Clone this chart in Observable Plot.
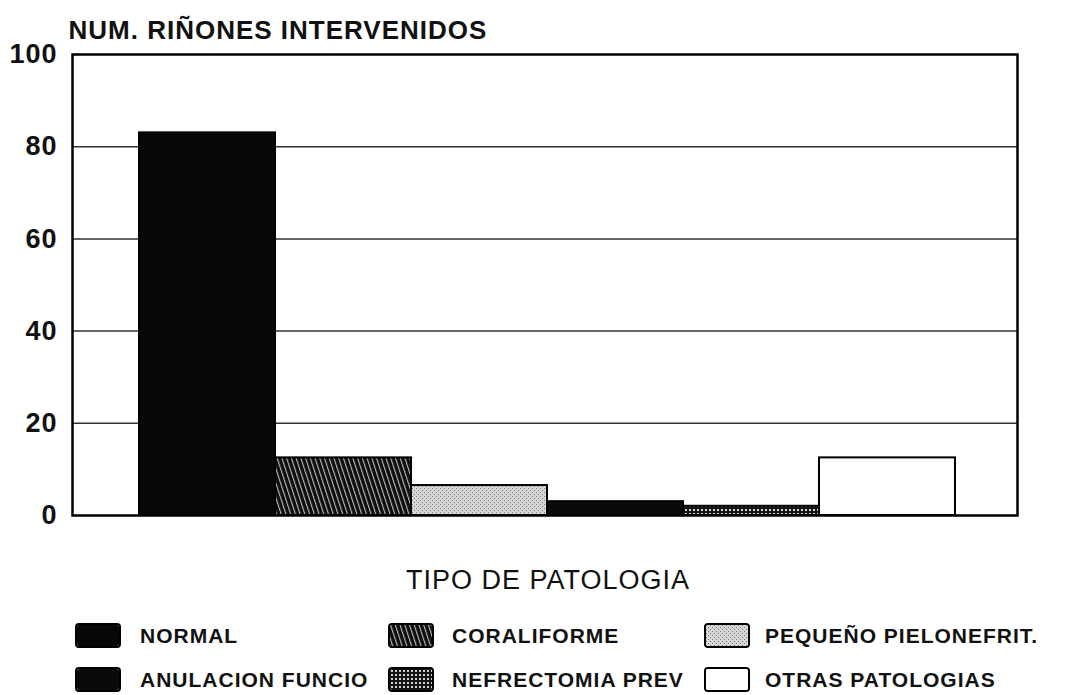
<!DOCTYPE html>
<html><head><meta charset="utf-8">
<script src="https://cdn.jsdelivr.net/npm/d3@7"></script>
<script src="https://cdn.jsdelivr.net/npm/@observablehq/plot@0.6"></script>
<style>
body{margin:0;background:#fff;font-family:"Liberation Sans",Arial,sans-serif;}
#chart{width:1074px;height:608px;}
#legend{position:relative;width:1074px;height:87px;}
.sw{position:absolute;width:42px;height:21px;border:2px solid #000;border-radius:4px;overflow:hidden;background:#fff;}
.sw svg{display:block}
.lt{position:absolute;font-size:21px;font-weight:bold;letter-spacing:1px;line-height:24px;color:#111;white-space:nowrap;}
</style></head><body>
<svg width="0" height="0" style="position:absolute">
<defs>
 <pattern id="pat-normal" width="4" height="4" patternUnits="userSpaceOnUse">
   <rect width="4" height="4" fill="#070707"/>
 </pattern>
 <pattern id="pat-coral" width="4.5" height="5" patternUnits="userSpaceOnUse" patternTransform="rotate(-18)">
   <rect width="4.5" height="5" fill="#0e0e0e"/>
   <rect x="0" y="0" width="1.1" height="5" fill="#bdbdbd"/>
 </pattern>
 <pattern id="pat-peq" width="4" height="4" patternUnits="userSpaceOnUse">
   <rect width="4" height="4" fill="#d6d6d6"/>
   <rect x="0" y="0" width="1" height="1" fill="#7a7a7a"/>
   <rect x="2" y="2" width="1" height="1" fill="#7a7a7a"/>
 </pattern>
 <pattern id="pat-anul" width="4" height="4" patternUnits="userSpaceOnUse">
   <rect width="4" height="4" fill="#0a0a0a"/>
 </pattern>
 <pattern id="pat-nef" width="4" height="4" patternUnits="userSpaceOnUse">
   <rect width="4" height="4" fill="#151515"/>
   <rect x="1" y="1" width="2" height="2" fill="#d0d0d0"/>
 </pattern>
 <pattern id="pat-otras" width="4" height="4" patternUnits="userSpaceOnUse">
   <rect width="4" height="4" fill="#ffffff"/>
 </pattern>
</defs></svg>
<div id="chart"></div>
<div id="legend"></div>
<script>
// ---- data ----
const categories = ["NORMAL", "CORALIFORME", "PEQUEÑO PIELONEFRIT.", "ANULACION FUNCIO", "NEFRECTOMIA PREV", "OTRAS PATOLOGIAS"];
const values = [83, 12.5, 6.5, 3, 2, 12.5];
const yTicks = [0, 20, 40, 60, 80, 100];
const gridValues = [20, 40, 60, 80];
const yTitle = "NUM. RIÑONES INTERVENIDOS";
const xTitle = "TIPO DE PATOLOGIA";

// ---- styles (kept apart from data) ----
const fills = ["url(#pat-normal)", "url(#pat-coral)", "url(#pat-peq)", "url(#pat-anul)", "url(#pat-nef)", "url(#pat-otras)"];

const data = categories.map((c, i) => ({cat: c, value: values[i], fill: fills[i]}));

const chart = Plot.plot({
  width: 1074, height: 608,
  marginLeft: 72, marginRight: 57, marginTop: 54, marginBottom: 93,
  style: {fontFamily: "'Liberation Sans', Arial, sans-serif", fontSize: "26px", color: "#111", background: "#fff", overflow: "visible", letterSpacing: "1px"},
  x: {domain: categories, range: [139, 955], padding: 0, axis: null},
  y: {domain: [0, 100]},
  color: {type: "identity"},
  marks: [
    Plot.ruleY(gridValues, {stroke: "#333", strokeWidth: 1.5}),
    Plot.barY(data, {x: "cat", y: "value", fill: "fill", stroke: "#000", strokeWidth: 2, insetLeft: 0, insetRight: 0}),
    Plot.frame({stroke: "#000", strokeWidth: 2.5}),
    Plot.axisY({ticks: yTicks, tickSize: 0, tickPadding: 15, fontSize: 27, fontWeight: "bold", label: null}),
    Plot.text([yTitle], {text: d => d, frameAnchor: "top-left", textAnchor: "start", dx: -4, dy: -34, fontSize: 26, fontWeight: "bold"}),
    Plot.text([xTitle], {text: d => d, frameAnchor: "bottom", dx: 3, dy: 73, fontSize: 27})
  ]
});
document.getElementById("chart").appendChild(chart);

// ---- legend (HTML below the SVG) ----
const legend = document.getElementById("legend");
const swatchX = [75, 388, 704];
const textX = [140, 452, 765];
const rowTop = [15, 59];
categories.forEach((c, i) => {
  const col = i % 3, row = Math.floor(i / 3);
  const sw = document.createElement("div");
  sw.className = "sw";
  sw.style.left = swatchX[col] + "px";
  sw.style.top = rowTop[row] + "px";
  sw.innerHTML = `<svg width="42" height="21"><rect width="42" height="21" fill="${fills[i]}"/></svg>`;
  legend.appendChild(sw);
  const t = document.createElement("div");
  t.className = "lt";
  t.style.left = textX[col] + "px";
  t.style.top = (rowTop[row] + 1) + "px";
  t.textContent = c;
  legend.appendChild(t);
});
</script>
</body></html>
